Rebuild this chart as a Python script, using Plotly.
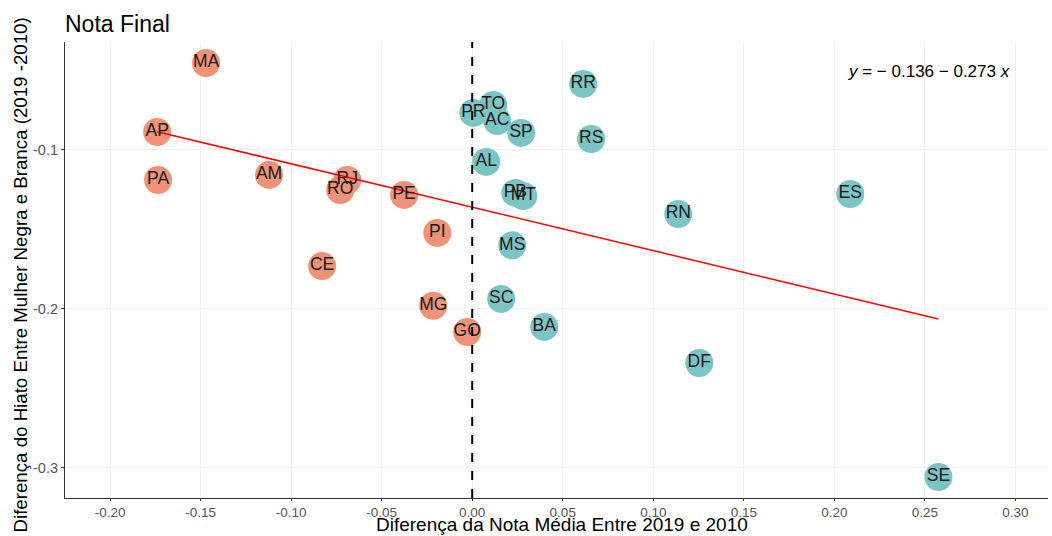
import plotly.graph_objects as go

states = ["MA", "AP", "PA", "AM", "RJ", "RO", "PE", "PI", "CE", "MG", "GO",
          "PR", "TO", "AC", "SP", "RR", "RS", "AL", "PB", "MT", "MS", "RN",
          "ES", "SC", "BA", "DF", "SE"]
dif_nota = [-0.147, -0.174, -0.1735, -0.1122, -0.069, -0.0729, -0.0376, -0.0193,
            -0.0829, -0.0215, -0.0028, 0.0006, 0.0116, 0.0138, 0.027, 0.0613,
            0.0657, 0.0077, 0.0238, 0.0282, 0.0221, 0.1138, 0.2088, 0.016,
            0.0398, 0.1254, 0.2575]
dif_hiato = [-0.0453, -0.0887, -0.1189, -0.1157, -0.1189, -0.1252, -0.1283, -0.1522,
             -0.173, -0.198, -0.2145, -0.0767, -0.0717, -0.0818, -0.0893, -0.0585,
             -0.0931, -0.1075, -0.127, -0.129, -0.160, -0.1403, -0.1277, -0.1937,
             -0.2113, -0.234, -0.3057]

intercept = -0.136
slope = -0.273

x_ticks = [-0.20, -0.15, -0.10, -0.05, 0.00, 0.05, 0.10, 0.15, 0.20, 0.25, 0.30]
x_tick_labels = ["-0.20", "-0.15", "-0.10", "-0.05", "0.00", "0.05", "0.10",
                 "0.15", "0.20", "0.25", "0.30"]
y_ticks = [-0.3, -0.2, -0.1]
y_tick_labels = ["-0.3", "-0.2", "-0.1"]

COL_NEG = "#EE9377"
COL_POS = "#7CC5C5"
colors = [COL_NEG if v < 0 else COL_POS for v in dif_nota]

FONT = "Liberation Sans, Arial, Helvetica, sans-serif"

fig = go.Figure()
fig.add_trace(go.Scatter(
    x=dif_nota, y=dif_hiato, mode="markers",
    marker=dict(size=28, color=colors, line=dict(width=0)),
    hoverinfo="text", text=states, showlegend=False,
))
xmin, xmax = min(dif_nota), max(dif_nota)
fig.add_trace(go.Scatter(
    x=[xmin, xmax], y=[intercept + slope * xmin, intercept + slope * xmax],
    mode="lines", line=dict(color="#FF0000", width=1.5), showlegend=False,
    hoverinfo="skip",
))
fig.add_trace(go.Scatter(
    x=dif_nota, y=dif_hiato, mode="text", text=states,
    textposition="middle center",
    textfont=dict(family=FONT, size=17.5, color="#1A1A1A"),
    showlegend=False, hoverinfo="skip",
))

fig.add_shape(type="line", xref="x", yref="paper", x0=0, x1=0, y0=0, y1=1,
              line=dict(color="black", width=2, dash="dash"), layer="above")

fig.add_annotation(
    x=0.2525, y=-0.0509, xref="x", yref="y",
    text="<i>y</i> = − 0.136 − 0.273 <i>x</i>", showarrow=False,
    font=dict(family=FONT, size=17, color="black"), xanchor="center", yanchor="middle",
)
fig.add_annotation(
    x=-0.0448, y=0.49, xref="paper", yref="paper", textangle=-90,
    text="Diferença do Hiato Entre Mulher Negra e Branca (2019 -2010)",
    showarrow=False, font=dict(family=FONT, size=18.7, color="black"),
    xanchor="center", yanchor="middle",
)
fig.add_annotation(
    x=0.5056, y=-0.058, xref="paper", yref="paper",
    text="Diferença da Nota Média Entre 2019 e 2010",
    showarrow=False, font=dict(family=FONT, size=19, color="black"),
    xanchor="center", yanchor="middle",
)

fig.update_layout(
    width=1052, height=536,
    margin=dict(l=65, r=4, t=42, b=38),
    paper_bgcolor="white", plot_bgcolor="white",
    title=dict(text="Nota Final", x=65 / 1052, xref="container", xanchor="left",
               y=1 - 24 / 536, yref="container", yanchor="middle",
               font=dict(family=FONT, size=23, color="black")),
    font=dict(family=FONT),
)
fig.update_xaxes(
    range=[-0.2249, 0.318], tickvals=x_ticks, ticktext=x_tick_labels,
    showgrid=True, gridcolor="#F0F0F0", gridwidth=1, zeroline=False,
    showline=True, linecolor="#333333", linewidth=1.2,
    ticks="outside", ticklen=2, tickcolor="#333333",
    tickfont=dict(family=FONT, size=13.5, color="#555555"),
)
fig.update_yaxes(
    range=[-0.3189, -0.0321], tickvals=y_ticks, ticktext=y_tick_labels,
    showgrid=True, gridcolor="#F0F0F0", gridwidth=1, zeroline=False,
    showline=True, linecolor="#333333", linewidth=1.2,
    ticks="outside", ticklen=3, tickcolor="#333333",
    tickfont=dict(family=FONT, size=14.5, color="#555555"),
)

fig.write_html("out.html", config={"displayModeBar": False},
               post_script="document.body.style.margin='0px';")
